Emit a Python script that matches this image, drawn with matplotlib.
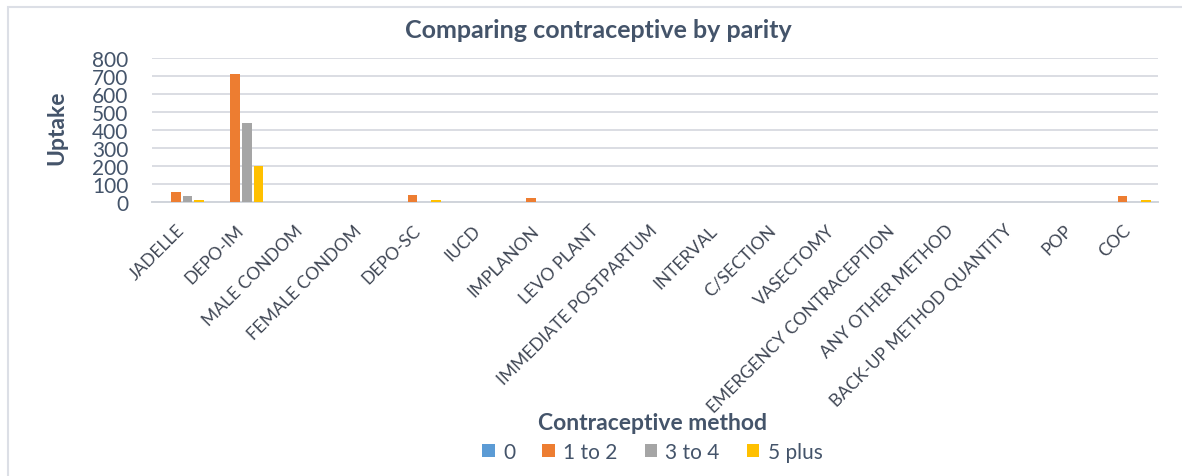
import numpy as np
import matplotlib
matplotlib.use("Agg")
import matplotlib.pyplot as plt
from matplotlib.patches import Rectangle

plt.rcParams['font.family'] = ['Lato', 'DejaVu Sans']

# Contraceptive uptake by parity group
methods = [
    "JADELLE", "DEPO-IM", "MALE CONDOM", "FEMALE CONDOM", "DEPO-SC", "IUCD",
    "IMPLANON", "LEVO PLANT", "IMMEDIATE POSTPARTUM", "INTERVAL", "C/SECTION",
    "VASECTOMY", "EMERGENCY CONTRACEPTION", "ANY OTHER METHOD",
    "BACK-UP METHOD QUANTITY", "POP", "COC",
]
parity_0 = [0, 0, 0, 0, 0, 0, 0, 0, 0, 0, 0, 0, 0, 0, 0, 0, 0]
parity_1_2 = [57, 710, 0, 0, 40, 0, 22, 0, 0, 0, 0, 0, 0, 0, 0, 0, 33]
parity_3_4 = [37, 440, 0, 0, 0, 2, 3, 2, 0, 2, 0, 0, 0, 0, 1, 0, 0]
parity_5_plus = [11, 203, 0, 0, 12, 0, 0, 0, 0, 0, 0, 0, 0, 0, 0, 0, 11]

series = [
    ("0", parity_0, "#5B9BD5"),
    ("1 to 2", parity_1_2, "#ED7D31"),
    ("3 to 4", parity_3_4, "#A5A5A5"),
    ("5 plus", parity_5_plus, "#FFC000"),
]

text_color = "#44546A"
label_color = "#3F4654"

fig = plt.figure(figsize=(11.82, 4.77), dpi=100)
fig.patch.set_facecolor("white")

# light frame around the chart
fig.patches.append(Rectangle((8 / 1182, -0.01), 1.2, 1 - 8 / 477 + 0.01,
                             transform=fig.transFigure, fill=False,
                             edgecolor="#DCDFE6", linewidth=1.5))

ax = fig.add_axes([0.1286, 0.5738, 0.8511, 0.3019])

x = np.arange(len(methods))
width = 0.2
for i, (name, vals, color) in enumerate(series):
    ax.bar(x + (i - 1.5) * width, vals, width * 0.82, color=color, label=name,
           zorder=3)

ax.set_xlim(-0.5, len(methods) - 0.5)
ax.set_ylim(0, 800)
ax.set_yticks(range(0, 801, 100))
ax.yaxis.grid(True, color="#DADDE3", linewidth=1.4, zorder=0)
ax.set_axisbelow(True)
for side in ["left", "right", "top"]:
    ax.spines[side].set_visible(False)
ax.spines["bottom"].set_color("#D0D4DB")
ax.spines["bottom"].set_linewidth(1.4)
ax.tick_params(axis="both", length=0)
ax.tick_params(axis="y", labelsize=15, labelcolor=text_color, pad=17)

ax.set_xticks(x)
ax.set_xticklabels(methods, rotation=45, ha="right", va="center",
                   rotation_mode="anchor", fontsize=12.5, color=label_color)
ax.tick_params(axis="x", pad=18)

fig.text(0.506, 0.937, "Comparing contraceptive by parity", ha="center",
         va="center", fontsize=18, fontweight="bold", color=text_color)
fig.text(0.048, 0.733, "Uptake", ha="center", va="center", rotation=90,
         fontsize=16.5, fontweight="bold", color=text_color)
fig.text(0.552, 0.113, "Contraceptive method", ha="center", va="center",
         fontsize=16.5, fontweight="bold", color=text_color)

leg = fig.legend(loc="center", bbox_to_anchor=(0.552, 0.05), ncol=4,
                 frameon=False, fontsize=15, handlelength=0.6,
                 handleheight=0.6, handletextpad=0.4, columnspacing=1.3)
for t in leg.get_texts():
    t.set_color(text_color)

fig.savefig("out.png", dpi=100, facecolor="white")
